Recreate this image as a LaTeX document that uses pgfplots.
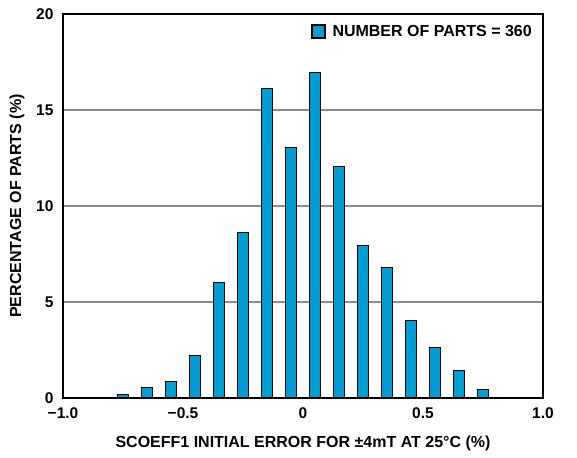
\documentclass[border=0pt]{standalone}
\usepackage{pgfplots}
\pgfplotsset{compat=1.18}
\usepackage{fontspec}
\setmainfont{Liberation Sans}
\definecolor{barblue}{RGB}{0,157,212}
\definecolor{gridgray}{RGB}{140,140,140}
\begin{document}
\begin{tikzpicture}
\useasboundingbox (-63pt,-59pt) rectangle (514pt,398pt);
\begin{axis}[
  scale only axis,
  width=480pt, height=384pt,
  xmin=-1, xmax=1, ymin=0, ymax=20,
  axis line style={black, line width=1.3pt},
  xtick={-1,-0.5,0,0.5,1},
  xticklabels={−1.0,−0.5,0,0.5,1.0},
  ytick={0,5,10,15,20},
  yticklabels={0,5,10,15,20},
  major tick length=0pt,
  tick label style={font=\fontsize{15.5}{17}\selectfont\bfseries},
  xticklabel style={yshift=-6pt},
  yticklabel style={xshift=-6pt},
  ymajorgrids,
  grid style={gridgray, line width=1.2pt},
  xlabel={SCOEFF1 INITIAL ERROR FOR ±4mT AT 25°C (\%)},
  ylabel={PERCENTAGE OF PARTS (\%)},
  label style={font=\fontsize{16}{18}\selectfont\bfseries},
  xlabel style={at={(axis description cs:0.5,0)}, anchor=center, yshift=-45pt},
  ylabel style={at={(axis description cs:-0.0958,0.5)}, anchor=center, rotate=0},
  legend style={at={(rel axis cs:1,1)}, anchor=north east, draw=none, fill=none,
    xshift=-6pt, yshift=-7pt, font=\fontsize{16}{18}\selectfont\bfseries,
    legend cell align=left},
  legend image code/.code={\draw[#1] (0pt,-6.5pt) rectangle (13pt,6.5pt); \path (18pt,0pt);},
]
\addplot[ybar, bar width=0.046, fill=barblue, draw=black, line width=1.1pt]
coordinates {
(-0.95,0) (-0.85,0) (-0.75,0.17) (-0.65,0.56) (-0.55,0.85) (-0.45,2.22)
(-0.35,6.0) (-0.25,8.6) (-0.15,16.1) (-0.05,13.05) (0.05,16.95) (0.15,12.08)
(0.25,7.93) (0.35,6.8) (0.45,4.03) (0.55,2.64) (0.65,1.41) (0.75,0.43)
(0.85,0) (0.95,0)
};
\addlegendentry{NUMBER OF PARTS = 360}
\end{axis}
\end{tikzpicture}
\end{document}
